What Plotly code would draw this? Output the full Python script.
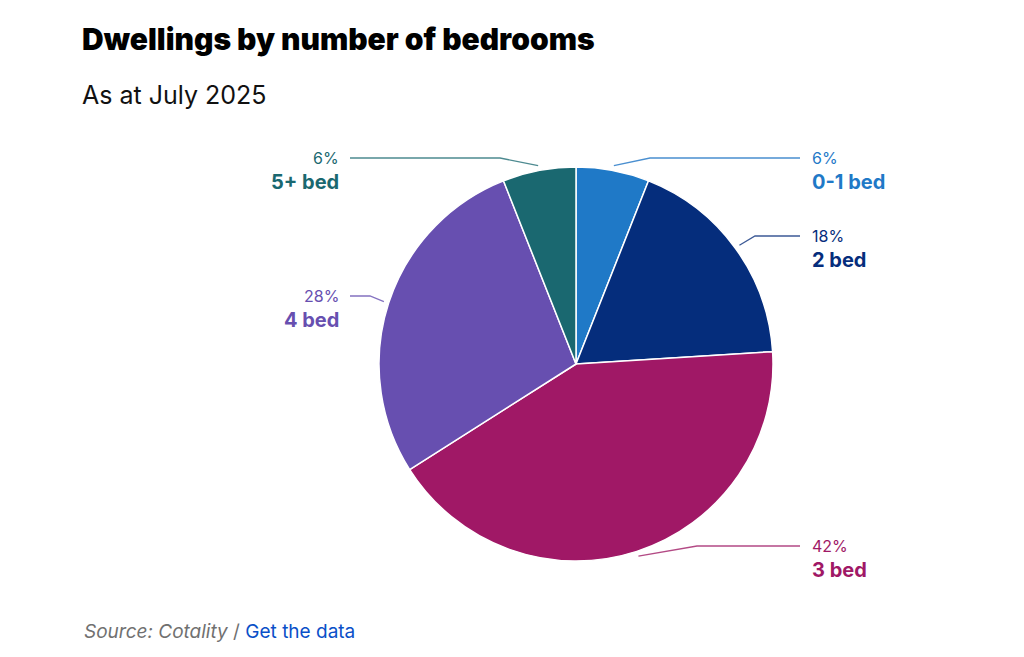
import math
import plotly.graph_objects as go

# ---- data ----
categories = ["0-1 bed", "2 bed", "3 bed", "4 bed", "5+ bed"]
values = [6, 18, 42, 28, 6]
colors = ["#1f79c7", "#052d7c", "#a01866", "#674fb0", "#1a6870"]
line_colors = ["#4a8fd0", "#3d5a96", "#b34a85", "#8472c0", "#4d8a90"]

# ---- layout geometry (pixels) ----
W, H = 1024, 657
CX, CY, R = 576, 364, 197
# label placement: side, label y (px), elbow x (px), label x (px)
label_layout = {
    "0-1 bed": ("right", 158, 650, 810),
    "2 bed": ("right", 236, 755, 810),
    "3 bed": ("right", 546, 697, 810),
    "4 bed": ("left", 296, 370, 341),
    "5+ bed": ("left", 158, 500, 341),
}


def px(x):
    return x / W


def py(y):
    return 1 - y / H


fig = go.Figure()
fig.add_trace(go.Pie(
    labels=categories,
    values=values,
    sort=False,
    direction="clockwise",
    rotation=0,
    marker=dict(colors=colors, line=dict(color="white", width=1.5)),
    textinfo="none",
    hoverinfo="label+percent",
    showlegend=False,
    domain=dict(x=[px(CX - R), px(CX + R)], y=[py(CY + R), py(CY - R)]),
))

shapes = []
annotations = []
total = sum(values)
cum = 0
for cat, v, col, lcol in zip(categories, values, colors, line_colors):
    mid = (cum + v / 2) / total * 2 * math.pi
    cum += v
    sx = CX + (R + 5) * math.sin(mid)
    sy = CY - (R + 5) * math.cos(mid)
    side, ly, ex, lx = label_layout[cat]
    end_x = lx - 10 if side == "right" else lx + 9
    path = f"M {px(sx)},{py(sy)} L {px(ex)},{py(ly)} L {px(end_x)},{py(ly)}"
    shapes.append(dict(type="path", xref="paper", yref="paper", path=path,
                       line=dict(color=lcol, width=1.3)))
    anchor = "left" if side == "right" else "right"
    pct = round(v / total * 100)
    annotations.append(dict(
        x=px(lx), y=py(ly), xref="paper", yref="paper", xanchor=anchor,
        yanchor="middle", showarrow=False, text=f"{pct}%",
        font=dict(family="Inter", size=16, color=col)))
    annotations.append(dict(
        x=px(lx), y=py(ly + 24), xref="paper", yref="paper", xanchor=anchor,
        yanchor="middle", showarrow=False, text=f"<b>{cat}</b>",
        font=dict(family="Inter", size=20, color=col)))

annotations.append(dict(
    x=px(80), y=py(39), xref="paper", yref="paper", xanchor="left",
    yanchor="middle", showarrow=False,
    text="Dwellings by number of bedrooms",
    font=dict(family="Inter", size=30, color="#000000", weight=900)))
annotations.append(dict(
    x=px(80), y=py(95), xref="paper", yref="paper", xanchor="left",
    yanchor="middle", showarrow=False, text="As at July 2025",
    font=dict(family="Inter", size=25, color="#111111")))
annotations.append(dict(
    x=px(82), y=py(631), xref="paper", yref="paper", xanchor="left",
    yanchor="middle", showarrow=False,
    text="<i>Source: Cotality</i> / <span style='color:#0a50c8'>Get the data</span>",
    font=dict(family="Inter", size=19, color="#707070")))

fig.update_layout(
    width=W, height=H,
    margin=dict(l=0, r=0, t=0, b=0),
    paper_bgcolor="white", plot_bgcolor="white",
    shapes=shapes, annotations=annotations,
)

fig.write_html("out.html", config={"displayModeBar": False})
